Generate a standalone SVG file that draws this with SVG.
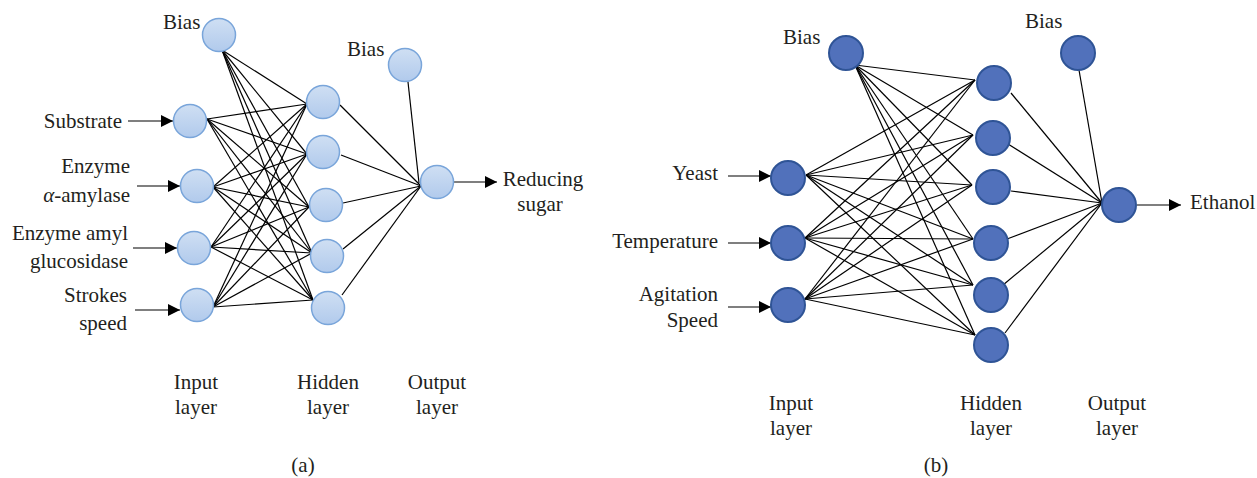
<svg xmlns="http://www.w3.org/2000/svg" width="1257" height="478" viewBox="0 0 1257 478">
<style>
text{font-family:"Liberation Serif","Times New Roman",serif;font-size:21px;fill:#231f20}
.e{text-anchor:end}.m{text-anchor:middle}
.ln line{stroke:#000;stroke-width:1.2}
.ar{stroke:#000;stroke-width:1.4;marker-end:url(#ah)}
.na{fill:url(#lg);stroke:#79a5da;stroke-width:1.5}
.nb{fill:#5171bb;stroke:#2f5496;stroke-width:2}
</style>
<defs>
<linearGradient id="lg" x1="0" y1="0" x2="0" y2="1"><stop offset="0" stop-color="#cfdff3"/><stop offset="1" stop-color="#b1caec"/></linearGradient>
<marker id="ah" viewBox="0 0 10 10" refX="10" refY="5" markerWidth="14" markerHeight="12" markerUnits="userSpaceOnUse" orient="auto"><path d="M0,0L10,5L0,10z" fill="#000"/></marker>
</defs>
<g id="connectors" class="ln">
<g id="a-ih">
<line x1="222" y1="50" x2="307" y2="104"/><line x1="222" y1="50" x2="307" y2="154"/><line x1="222" y1="50" x2="309" y2="207"/><line x1="222" y1="50" x2="312" y2="253"/><line x1="222" y1="50" x2="313" y2="300"/>
<line x1="207" y1="119" x2="307" y2="104"/><line x1="207" y1="119" x2="307" y2="154"/><line x1="207" y1="119" x2="309" y2="207"/><line x1="207" y1="119" x2="312" y2="253"/><line x1="207" y1="119" x2="313" y2="300"/>
<line x1="213" y1="187" x2="307" y2="104"/><line x1="213" y1="187" x2="307" y2="154"/><line x1="213" y1="187" x2="309" y2="207"/><line x1="213" y1="187" x2="312" y2="253"/><line x1="213" y1="187" x2="313" y2="300"/>
<line x1="211" y1="247" x2="307" y2="104"/><line x1="211" y1="247" x2="307" y2="154"/><line x1="211" y1="247" x2="309" y2="207"/><line x1="211" y1="247" x2="312" y2="253"/><line x1="211" y1="247" x2="313" y2="300"/>
<line x1="213" y1="307" x2="307" y2="104"/><line x1="213" y1="307" x2="307" y2="154"/><line x1="213" y1="307" x2="309" y2="207"/><line x1="213" y1="307" x2="312" y2="253"/><line x1="213" y1="307" x2="313" y2="300"/>
</g>
<g id="a-ho">
<line x1="340" y1="105" x2="421" y2="186"/><line x1="341" y1="155" x2="421" y2="186"/><line x1="343" y1="203" x2="421" y2="186"/><line x1="343" y1="249" x2="421" y2="186"/><line x1="342" y1="295" x2="421" y2="186"/><line x1="408" y1="82" x2="419" y2="183"/>
</g>
<g id="b-ih">
<line x1="855" y1="65" x2="975" y2="80"/><line x1="855" y1="65" x2="973" y2="135"/><line x1="855" y1="65" x2="972" y2="185"/><line x1="855" y1="65" x2="973" y2="239"/><line x1="855" y1="65" x2="973" y2="285"/><line x1="855" y1="65" x2="975" y2="335"/>
<line x1="806" y1="175" x2="975" y2="80"/><line x1="806" y1="175" x2="973" y2="135"/><line x1="806" y1="175" x2="972" y2="185"/><line x1="806" y1="175" x2="973" y2="239"/><line x1="806" y1="175" x2="973" y2="285"/><line x1="806" y1="175" x2="975" y2="335"/>
<line x1="805" y1="238" x2="975" y2="80"/><line x1="805" y1="238" x2="973" y2="135"/><line x1="805" y1="238" x2="972" y2="185"/><line x1="805" y1="238" x2="973" y2="239"/><line x1="805" y1="238" x2="973" y2="285"/><line x1="805" y1="238" x2="975" y2="335"/>
<line x1="805" y1="299" x2="975" y2="80"/><line x1="805" y1="299" x2="973" y2="135"/><line x1="805" y1="299" x2="972" y2="185"/><line x1="805" y1="299" x2="973" y2="239"/><line x1="805" y1="299" x2="973" y2="285"/><line x1="805" y1="299" x2="975" y2="335"/>
</g>
<g id="b-ho">
<line x1="1011" y1="93" x2="1102" y2="203"/><line x1="1008" y1="144" x2="1102" y2="203"/><line x1="1011" y1="191" x2="1102" y2="203"/><line x1="1007" y1="239" x2="1102" y2="203"/><line x1="1003" y1="285" x2="1102" y2="203"/><line x1="1005" y1="333" x2="1102" y2="203"/><line x1="1079" y1="70" x2="1102" y2="203"/>
</g>
<line class="ar" x1="128" y1="121" x2="173" y2="121"/>
<line class="ar" x1="137" y1="186" x2="180" y2="186"/>
<line class="ar" x1="133" y1="248" x2="177" y2="248"/>
<line class="ar" x1="135" y1="310" x2="180" y2="310"/>
<line class="ar" x1="454" y1="182" x2="497" y2="182"/>
<line class="ar" x1="728" y1="176" x2="771" y2="176"/>
<line class="ar" x1="728" y1="243" x2="771" y2="243"/>
<line class="ar" x1="728" y1="307" x2="771" y2="307"/>
<line class="ar" x1="1137" y1="205" x2="1181" y2="205"/>
</g>
<g id="a-bias-in"><circle class="na" cx="219" cy="35" r="16.5"/></g>
<g id="a-substrate"><circle class="na" cx="190" cy="121" r="16.5"/></g>
<g id="a-amylase"><circle class="na" cx="197" cy="186" r="16.5"/></g>
<g id="a-glucosidase"><circle class="na" cx="194" cy="248" r="16.5"/></g>
<g id="a-strokes"><circle class="na" cx="197" cy="305" r="16.5"/></g>
<g id="a-h1"><circle class="na" cx="323" cy="102" r="16.5"/></g>
<g id="a-h2"><circle class="na" cx="323" cy="152" r="16.5"/></g>
<g id="a-h3"><circle class="na" cx="326" cy="205" r="16.5"/></g>
<g id="a-h4"><circle class="na" cx="327" cy="256" r="16.5"/></g>
<g id="a-h5"><circle class="na" cx="328" cy="308" r="16.5"/></g>
<g id="a-bias-out"><circle class="na" cx="405" cy="65" r="16.5"/></g>
<g id="a-out"><circle class="na" cx="437" cy="182" r="16.5"/></g>
<g id="b-bias-in"><circle class="nb" cx="846" cy="53" r="17"/></g>
<g id="b-yeast"><circle class="nb" cx="788" cy="178" r="17"/></g>
<g id="b-temp"><circle class="nb" cx="788" cy="243" r="17"/></g>
<g id="b-agit"><circle class="nb" cx="788" cy="305" r="17"/></g>
<g id="b-h1"><circle class="nb" cx="994" cy="83" r="17"/></g>
<g id="b-h2"><circle class="nb" cx="993" cy="138" r="17"/></g>
<g id="b-h3"><circle class="nb" cx="993" cy="187" r="17"/></g>
<g id="b-h4"><circle class="nb" cx="991" cy="243" r="17"/></g>
<g id="b-h5"><circle class="nb" cx="991" cy="295" r="17"/></g>
<g id="b-h6"><circle class="nb" cx="991" cy="345" r="17"/></g>
<g id="b-bias-out"><circle class="nb" cx="1078" cy="53" r="17"/></g>
<g id="b-out"><circle class="nb" cx="1119" cy="205" r="17"/></g>
<g id="a-labels">
<text x="163" y="29">Bias</text>
<text class="e" x="122" y="128">Substrate</text>
<text class="e" x="130" y="173">Enzyme</text>
<text class="e" x="130" y="202"><tspan font-style="italic">α</tspan>-amylase</text>
<text class="e" x="128" y="240">Enzyme amyl</text>
<text class="e" x="128" y="268">glucosidase</text>
<text class="e" x="127" y="302">Strokes</text>
<text class="e" x="127" y="330">speed</text>
<text x="347" y="56">Bias</text>
<text class="m" x="543" y="186">Reducing</text>
<text class="m" x="540" y="211">sugar</text>
<text class="m" x="196" y="389">Input</text>
<text class="m" x="196" y="414">layer</text>
<text class="m" x="328" y="389">Hidden</text>
<text class="m" x="328" y="414">layer</text>
<text class="m" x="437" y="389">Output</text>
<text class="m" x="437" y="414">layer</text>
<text class="m" x="303" y="472">(a)</text>
</g>
<g id="b-labels">
<text x="783" y="44">Bias</text>
<text class="e" x="718" y="180">Yeast</text>
<text class="e" x="718" y="248">Temperature</text>
<text class="e" x="718" y="301">Agitation</text>
<text class="e" x="718" y="327">Speed</text>
<text x="1025" y="28">Bias</text>
<text x="1190" y="209">Ethanol</text>
<text class="m" x="791" y="410">Input</text>
<text class="m" x="791" y="435">layer</text>
<text class="m" x="991" y="410">Hidden</text>
<text class="m" x="991" y="435">layer</text>
<text class="m" x="1117" y="410">Output</text>
<text class="m" x="1117" y="435">layer</text>
<text class="m" x="936" y="472">(b)</text>
</g>
</svg>
